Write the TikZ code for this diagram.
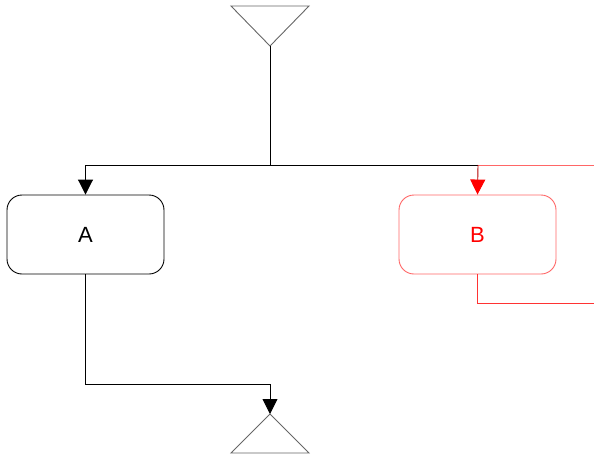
\documentclass[tikz,border=0pt]{standalone}
\usepackage{fontspec}
\setmainfont{Liberation Sans}
\usetikzlibrary{arrows.meta,positioning}

\begin{document}
\begin{tikzpicture}[x=1pt,y=-1pt,line width=0.9pt,
  box/.style={draw,rounded corners=15pt,minimum width=157pt,minimum height=79pt,inner sep=0pt,font=\fontsize{22}{26}\selectfont},
  arr/.style={-{Triangle[length=15pt,width=15pt]}}]
  \useasboundingbox (0,0) rectangle (594,455);

  % start and end markers
  \coordinate (S) at (270,46);
  \coordinate (E) at (270,414);
  \draw[gray!80!black] (S) -- ++(-39,-40) -- ++(78,0) -- cycle;
  \draw[gray!80!black] (E) -- ++(-39,39) -- ++(78,0) -- cycle;

  % activities
  \node[box] (A) at (85.5,234.5) {A};
  \node[box,draw=red!60,text=red] (B) at (477.5,234.5) {B};

  % junctions
  \coordinate (J) at (270,165);
  \coordinate (K) at (478,165);
  \coordinate (M) at (270,384);
  \coordinate (R1) at (594,165);
  \coordinate (R2) at (594,303);

  \draw (S) -- (J);
  \draw[arr] (J) -| (A.north);
  \draw (J) -- (K);
  \draw[red!60] (K) -- (R1);
  \draw[red!70!black,-{Triangle[length=15pt,width=15pt,red]}] (K) -- (B.north);
  \draw[red!80] (B.south) |- (R2);
  \draw[arr] (A.south) |- (M) -- (E);
\end{tikzpicture}
\end{document}
